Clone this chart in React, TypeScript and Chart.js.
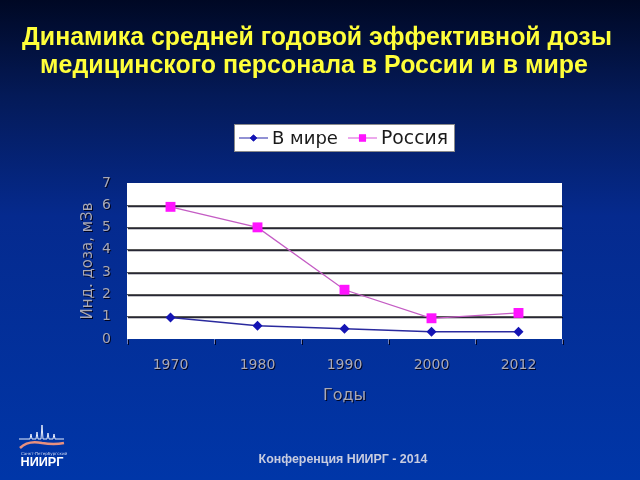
import React, { useEffect, useRef } from 'react';
import { Chart, registerables } from 'chart.js';
import { drawPoint } from 'chart.js/helpers';

Chart.register(...registerables);

const years = ['1970', '1980', '1990', '2000', '2012'];
const worldDose = [0.97, 0.6, 0.46, 0.33, 0.33];
const russiaDose = [5.93, 5.01, 2.21, 0.93, 1.17];
const seriesLabels = ['В мире', 'Россия'];
const yMin = 0;
const yMax = 7;
const titleLines = [
  'Динамика средней годовой эффективной дозы',
  'медицинского персонала в России и в мире',
];
const yAxisTitle = 'Инд. доза, мЗв';
const xAxisTitle = 'Годы';
const footerText = 'Конференция НИИРГ - 2014';
const logoText = 'НИИРГ';
const logoSubText = 'Санкт-Петербургский';

function fitFont(ctx: CanvasRenderingContext2D, text: string, width: number, weight: string, family: string) {
  ctx.font = `${weight} 20px ${family}`;
  const w = ctx.measureText(text).width;
  const size = (20 * width) / w;
  return `${weight} ${size.toFixed(2)}px ${family}`;
}

const decorPlugin = {
  id: 'decor',
  beforeDraw(chart: any) {
    const { ctx, chartArea } = chart;
    const g = ctx.createLinearGradient(0, 0, 0, 480);
    g.addColorStop(0, '#000824');
    g.addColorStop(0.2, '#041a58');
    g.addColorStop(0.45, '#052a8e');
    g.addColorStop(1, '#0036a8');
    ctx.fillStyle = g;
    ctx.fillRect(0, 0, 640, 480);
    ctx.fillStyle = '#ffffff';
    ctx.fillRect(chartArea.left, chartArea.top, chartArea.right - chartArea.left, chartArea.bottom - chartArea.top);
    ctx.shadowColor = 'rgba(0,0,20,0.9)';
    ctx.shadowOffsetX = 1;
    ctx.shadowOffsetY = 1;
    ctx.shadowBlur = 0;
  },
  beforeDatasetsDraw(chart: any) {
    const ctx = chart.ctx;
    ctx.shadowColor = 'rgba(0,0,0,0)';
    ctx.shadowOffsetX = 0;
    ctx.shadowOffsetY = 0;
  },
  afterDraw(chart: any) {
    const ctx: any = chart.ctx;
    ctx.save();
    ctx.shadowColor = 'rgba(0,0,0,0)';
    ctx.fillStyle = '#ffff3a';
    ctx.textAlign = 'center';
    ctx.textBaseline = 'middle';
    ctx.font = fitFont(ctx, titleLines[0], 590, 'bold', '"Liberation Sans", Arial, sans-serif');
    ctx.fillText(titleLines[0], 317, 38);
    ctx.font = fitFont(ctx, titleLines[1], 548, 'bold', '"Liberation Sans", Arial, sans-serif');
    ctx.fillText(titleLines[1], 314, 66);

    // legend
    const lx = 234, ly = 124, lw = 221, lh = 28;
    ctx.fillStyle = '#ffffff';
    ctx.fillRect(lx, ly, lw, lh);
    ctx.strokeStyle = '#8a8a8a';
    ctx.lineWidth = 1;
    ctx.strokeRect(lx + 0.5, ly + 0.5, lw - 1, lh - 1);
    const widths = [66, 67];
    const lineCols = ['#4848b8', '#e070e0'];
    let x = 239;
    const cy = ly + lh / 2;
    chart.data.datasets.forEach((ds: any, i: number) => {
      ctx.strokeStyle = lineCols[i];
      ctx.lineWidth = 1.2;
      ctx.beginPath();
      ctx.moveTo(x, cy);
      ctx.lineTo(x + 29, cy);
      ctx.stroke();
      ctx.fillStyle = ds.pointBackgroundColor;
      drawPoint(ctx, { pointStyle: ds.pointStyle, radius: ds.pointStyle === 'rect' ? 5 : 3.6, borderWidth: 0, rotation: 0 } as any, x + 14.5, cy);
      ctx.fill();
      ctx.fillStyle = '#1a1a1a';
      ctx.textAlign = 'left';
      ctx.textBaseline = 'middle';
      ctx.font = fitFont(ctx, ds.label, widths[i], 'normal', '"DejaVu Sans", sans-serif');
      ctx.fillText(ds.label, x + 33, cy + 1);
      x += 33 + widths[i] + 10;
    });

    // footer
    ctx.fillStyle = '#c8cce0';
    ctx.textAlign = 'center';
    ctx.textBaseline = 'middle';
    ctx.font = fitFont(ctx, footerText, 169, 'bold', '"Liberation Sans", Arial, sans-serif');
    ctx.fillText(footerText, 343, 460);

    // logo
    ctx.strokeStyle = '#e8eefc';
    ctx.lineWidth = 1;
    ctx.beginPath();
    ctx.moveTo(19, 439);
    ctx.lineTo(30, 439);
    ctx.lineTo(31, 434);
    ctx.lineTo(32, 439);
    ctx.lineTo(36, 439);
    ctx.lineTo(37, 432);
    ctx.lineTo(38, 439);
    ctx.lineTo(41, 439);
    ctx.lineTo(42, 425);
    ctx.lineTo(43, 439);
    ctx.lineTo(47, 439);
    ctx.lineTo(48, 433);
    ctx.lineTo(49, 439);
    ctx.lineTo(53, 439);
    ctx.lineTo(54, 434);
    ctx.lineTo(55, 439);
    ctx.lineTo(64, 439);
    ctx.stroke();
    ctx.strokeStyle = '#e8907e';
    ctx.lineWidth = 2.5;
    ctx.beginPath();
    ctx.moveTo(20, 448);
    ctx.quadraticCurveTo(28, 440, 42, 443);
    ctx.quadraticCurveTo(54, 445, 64, 443);
    ctx.stroke();
    ctx.fillStyle = '#cfd8f0';
    ctx.font = '4px "DejaVu Sans", sans-serif';
    ctx.textAlign = 'left';
    ctx.fillText(logoSubText, 21, 454);
    ctx.fillStyle = '#ffffff';
    ctx.font = fitFont(ctx, logoText, 43, 'bold', '"Liberation Sans", Arial, sans-serif');
    ctx.fillText(logoText, 20.5, 463);
    ctx.restore();
  },
};

export default function App() {
  const ref = useRef<HTMLCanvasElement | null>(null);
  useEffect(() => {
    if (!ref.current) return;
    const chart = new Chart(ref.current, {
      type: 'line',
      data: {
        labels: years,
        datasets: [
          {
            label: seriesLabels[0],
            data: worldDose,
            borderColor: '#2a2a9e',
            backgroundColor: '#1414b4',
            pointBackgroundColor: '#1414b4',
            pointBorderColor: '#1414b4',
            pointStyle: 'rectRot',
            pointRadius: 5,
            pointBorderWidth: 0,
            borderWidth: 1.5,
            tension: 0,
          },
          {
            label: seriesLabels[1],
            data: russiaDose,
            borderColor: '#c45cc4',
            backgroundColor: '#ff14ff',
            pointBackgroundColor: '#ff14ff',
            pointBorderColor: '#ff14ff',
            pointStyle: 'rect',
            pointRadius: 7,
            pointBorderWidth: 0,
            borderWidth: 1.3,
            tension: 0,
          },
        ],
      },
      options: {
        responsive: false,
        animation: false,
        devicePixelRatio: 1,
        layout: { padding: { left: 67, right: 78, top: 183, bottom: 71 } },
        plugins: {
          legend: { display: false },
          title: { display: false },
          tooltip: { enabled: false },
        },
        scales: {
          x: {
            offset: true,
            afterFit: (s: any) => { s.height = 70; },
            grid: {
              display: true,
              drawOnChartArea: false,
              drawTicks: true,
              tickLength: 5,
              color: '#6f80bc',
              offset: true,
            },
            border: { display: false },
            ticks: {
              color: '#a9a9b6',
              font: { family: '"DejaVu Sans", sans-serif', size: 14 },
              padding: 13,
            },
            title: {
              display: true,
              text: xAxisTitle,
              color: '#a9a9b6',
              font: { family: '"DejaVu Sans", sans-serif', size: 16 },
              padding: { top: 0, bottom: 4 },
            },
          },
          y: {
            min: yMin,
            max: yMax,
            afterFit: (s: any) => { s.width = 60; },
            grid: {
              drawTicks: false,
              lineWidth: 1.2,
              color: (c: any) => (c.tick && (c.tick.value === yMin || c.tick.value === yMax) ? 'rgba(0,0,0,0)' : '#555555'),
            },
            border: { display: false },
            ticks: {
              stepSize: 1,
              color: '#a9a9b6',
              font: { family: '"DejaVu Sans", sans-serif', size: 14 },
              padding: 16,
            },
            title: {
              display: true,
              text: yAxisTitle,
              color: '#a9a9b6',
              font: { family: '"DejaVu Sans", sans-serif', size: 15 },
              padding: { top: 12, bottom: 0 },
            },
          },
        },
      },
      plugins: [decorPlugin],
    });
    return () => chart.destroy();
  }, []);
  return (
    <div style={{ position: 'fixed', left: 0, top: 0, width: 640, height: 480 }}>
      <canvas ref={ref} width={640} height={480} style={{ display: 'block' }} />
    </div>
  );
}
